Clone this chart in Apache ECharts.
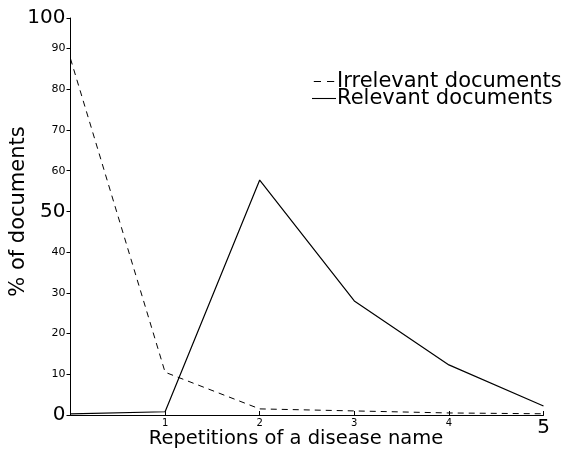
<!DOCTYPE html>
<html>
<head>
<meta charset="utf-8">
<script src="https://cdn.jsdelivr.net/npm/echarts@6/dist/echarts.min.js"></script>
<style>html,body{margin:0;padding:0;background:#fff}#c{width:564px;height:454px}</style>
</head>
<body>
<div id="c"></div>
<script>
var xValues = [0, 1, 2, 3, 4, 5];
var irrelevant = [87.5, 10.5, 1.5, 1.0, 0.5, 0.3];
var relevant = [0.3, 0.8, 57.7, 28.0, 12.3, 2.2];
var yTickValues = [0, 10, 20, 30, 40, 50, 60, 70, 80, 90, 97.5];
var yTickLabels = ['0', '10', '20', '30', '40', '50', '60', '70', '80', '90', '100'];
var yBigLabels = ['0', '50', '100'];
var xTickLabels = ['', '1', '2', '3', '4', '5'];
var xBigLabels = ['5'];
var seriesNames = ['Irrelevant documents', 'Relevant documents'];

var F = 'DejaVu Sans';
function pairs(vals) { return xValues.map(function (x, i) { return [x, vals[i]]; }); }

var chart = echarts.init(document.getElementById('c'), null, { renderer: 'canvas' });
chart.setOption({
  animation: false,
  backgroundColor: '#fff',
  grid: { left: 70.5, right: 20.5, top: 18, bottom: 39, containLabel: false, outerBoundsMode: 'none' },
  legend: {
    left: 307, top: 66, orient: 'vertical', itemGap: -4, itemWidth: 24, itemHeight: 1.2,
    textStyle: { fontFamily: F, fontSize: 21, color: '#000', padding: [0, 0, 0, -4] },
    data: [
      { name: seriesNames[0], icon: 'path://M0,0h6v1h-6zM11,0h6v1h-6z' },
      { name: seriesNames[1], icon: 'path://M0,0h22v1h-22z' }
    ]
  },
  xAxis: {
    type: 'value', min: 0, max: 5, interval: 1,
    name: 'Repetitions of a disease name', nameLocation: 'middle', nameGap: 14, nameMoveOverlap: false,
    nameTextStyle: { fontFamily: F, fontSize: 19.5, color: '#000', padding: [0, 22, 0, 0] },
    axisLine: { lineStyle: { color: '#000', width: 1 } },
    axisTick: { inside: true, length: 4, lineStyle: { color: '#000' } },
    splitLine: { show: false },
    axisLabel: {
      margin: 3, fontFamily: F, color: '#000',
      formatter: function (v) {
        var t = xTickLabels[Math.round(v)] || '';
        if (!t) return '';
        return xBigLabels.indexOf(t) >= 0 ? '{b|' + t + '}' : '{s|' + t + '}';
      },
      rich: { s: { fontFamily: F, fontSize: 10, color: '#000' }, b: { fontFamily: F, fontSize: 20, color: '#000' } }
    }
  },
  yAxis: {
    type: 'value', min: 0, max: 97.5,
    name: '% of documents', nameLocation: 'middle', nameGap: 41, nameRotate: 90, nameMoveOverlap: false,
    nameTextStyle: { fontFamily: F, fontSize: 21, color: '#000', padding: [0, 0, 0, 10] },
    axisLine: { show: true, lineStyle: { color: '#000', width: 1 } },
    axisTick: { show: true, length: 4, lineStyle: { color: '#000' }, customValues: yTickValues },
    splitLine: { show: false },
    axisLabel: {
      margin: 5, fontFamily: F, color: '#000', customValues: yTickValues,
      formatter: function (v) {
        var i = -1;
        for (var k = 0; k < yTickValues.length; k++) if (Math.abs(yTickValues[k] - v) < 1e-6) i = k;
        if (i < 0) return '';
        var t = yTickLabels[i];
        return yBigLabels.indexOf(t) >= 0 ? '{b|' + t + '}' : '{s|' + t + '}';
      },
      rich: { s: { fontFamily: F, fontSize: 11, color: '#000' }, b: { fontFamily: F, fontSize: 20, color: '#000' } }
    }
  },
  series: [
    {
      name: seriesNames[0], type: 'line', data: pairs(irrelevant), symbol: 'none',
      lineStyle: { color: '#000', width: 1, type: [6, 5] }, itemStyle: { color: '#000' }
    },
    {
      name: seriesNames[1], type: 'line', data: pairs(relevant), symbol: 'none',
      lineStyle: { color: '#000', width: 1.2, type: 'solid' }, itemStyle: { color: '#000' }
    }
  ]
});
</script>
</body>
</html>
